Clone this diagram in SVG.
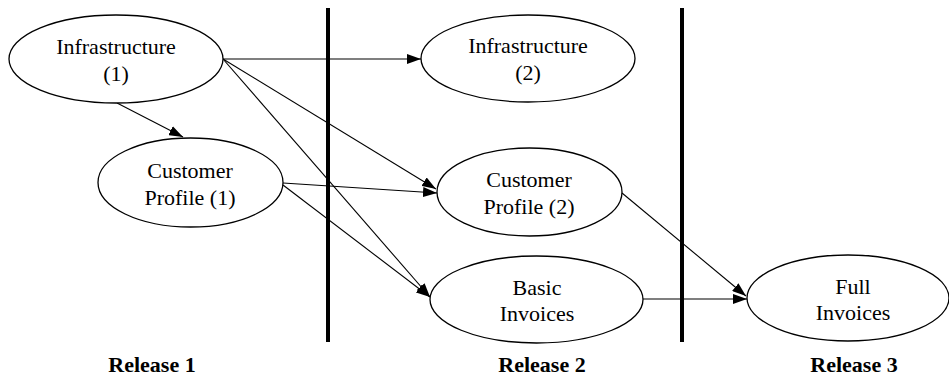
<svg xmlns="http://www.w3.org/2000/svg" width="949" height="376" viewBox="0 0 949 376">
<defs>
<marker id="ah" markerUnits="userSpaceOnUse" markerWidth="14" markerHeight="10" refX="14" refY="5" orient="auto">
<path d="M0,0 L14,5 L0,10 z" fill="#000"/>
</marker>
<style>
.node ellipse{fill:#fff;stroke:#000;stroke-width:1.3}
.node text{font-family:"Liberation Serif","Times New Roman",serif;font-size:22px;text-anchor:middle;fill:#000}
.edge{stroke:#000;stroke-width:1.1;fill:none;marker-end:url(#ah)}
.sep{stroke:#000;stroke-width:4}
.rel{font-family:"Liberation Serif","Times New Roman",serif;font-size:22px;font-weight:bold;text-anchor:middle;fill:#000}
</style>
</defs>
<rect width="949" height="376" fill="#fff"/>
<g id="separators">
<line class="sep" x1="328" y1="8" x2="328" y2="342"/>
<line class="sep" x1="682" y1="8" x2="682" y2="342"/>
</g>
<g id="connectors">
<line class="edge" x1="223" y1="59" x2="421" y2="59"/>
<line class="edge" x1="117" y1="103" x2="183" y2="137"/>
<line class="edge" x1="223" y1="59" x2="436" y2="189"/>
<line class="edge" x1="223" y1="59" x2="430" y2="297"/>
<line class="edge" x1="283" y1="183" x2="437" y2="193"/>
<line class="edge" x1="283" y1="185" x2="430" y2="297"/>
<line class="edge" x1="622" y1="193" x2="746" y2="296"/>
<line class="edge" x1="643" y1="299" x2="747" y2="299"/>
</g>
<g id="infra1" class="node">
<ellipse cx="116" cy="59" rx="107" ry="44"/>
<text x="116" y="54">Infrastructure</text>
<text x="116" y="81">(1)</text>
</g>
<g id="cp1" class="node">
<ellipse cx="190.5" cy="182.5" rx="92.5" ry="44.5"/>
<text x="190" y="178">Customer</text>
<text x="190" y="205">Profile (1)</text>
</g>
<g id="infra2" class="node">
<ellipse cx="528" cy="58.5" rx="107" ry="43.5"/>
<text x="528" y="53">Infrastructure</text>
<text x="528" y="80">(2)</text>
</g>
<g id="cp2" class="node">
<ellipse cx="529.5" cy="192" rx="92.5" ry="44"/>
<text x="529" y="187">Customer</text>
<text x="529" y="214">Profile (2)</text>
</g>
<g id="basic" class="node">
<ellipse cx="536.5" cy="299.5" rx="106.5" ry="43.5"/>
<text x="537" y="295">Basic</text>
<text x="537" y="321">Invoices</text>
</g>
<g id="full" class="node">
<ellipse cx="848" cy="298" rx="101" ry="43"/>
<text x="853" y="294">Full</text>
<text x="853" y="320">Invoices</text>
</g>
<g id="labels">
<text class="rel" x="152" y="372">Release 1</text>
<text class="rel" x="542" y="372">Release 2</text>
<text class="rel" x="854" y="372">Release 3</text>
</g>
</svg>
